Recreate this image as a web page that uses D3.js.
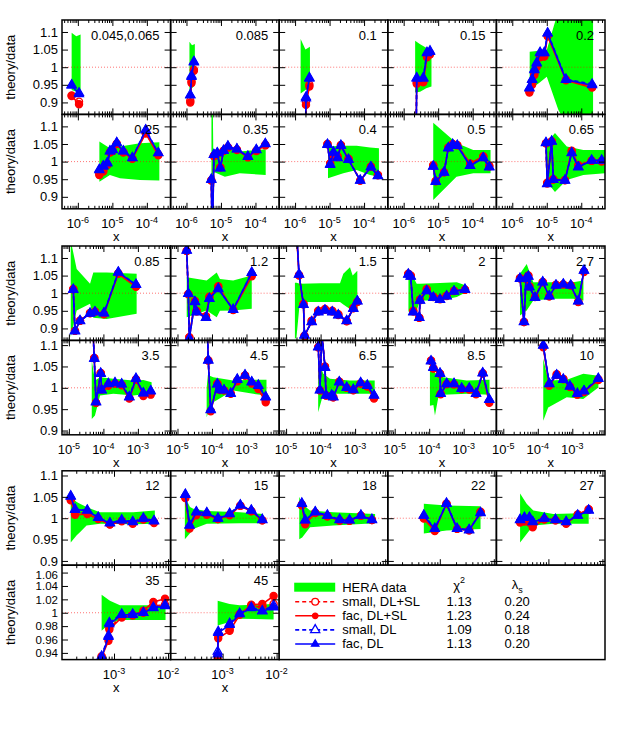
<!DOCTYPE html>
<html>
<head>
<meta charset="utf-8">
<script src="https://cdn.jsdelivr.net/npm/d3@7"></script>
<style>
  body { margin: 0; background: #fff; }
  text { font-family: "Liberation Sans", Arial, Helvetica, sans-serif; }
</style>
</head>
<body>
<div id="vis"></div>
<script>
// panel labels (Q^2 bins)
const panelLabels = ["0.045,0.065", "0.085", "0.1", "0.15", "0.2",
  "0.25", "0.35", "0.4", "0.5", "0.65",
  "0.85", "1.2", "1.5", "2", "2.7",
  "3.5", "4.5", "6.5", "8.5", "10",
  "12", "15", "18", "22", "27",
  "35", "45"];

// x values of the points, one list per panel
const xPoints = [
  [6.6e-7, 1.08e-6],
  [1.29e-6, 1.4e-6, 1.64e-6],
  [2.0e-6, 2.07e-6, 2.6e-6],
  [2.3e-6, 2.39e-6, 3.7e-6, 4.74e-6, 5.8e-6],
  [3.14e-6, 3.76e-6, 4.37e-6, 5.1e-6, 6.4e-6, 8.5e-6, 1.06e-5, 3.6e-5, 2.06e-4],
  [4.18e-6, 5.46e-6, 7.13e-6, 8.53e-6, 1.02e-5, 1.34e-5, 2.08e-5, 3.79e-5, 9.25e-5, 2.14e-4],
  [5.25e-6, 5.6e-6, 6.24e-6, 7.8e-6, 9.55e-6, 1.19e-5, 1.59e-5, 2.9e-5, 6.04e-5, 1.06e-4, 1.93e-4],
  [8.7e-6, 1.04e-5, 1.3e-5, 1.7e-5, 2.13e-5, 3.54e-5, 7.73e-5, 1.58e-4, 2.52e-4],
  [7.2e-6, 8.5e-6, 1.48e-5, 1.97e-5, 2.64e-5, 3.58e-5, 8.4e-5, 2.03e-4, 3.03e-4],
  [9.5e-6, 1.03e-5, 1.39e-5, 1.55e-5, 3.37e-5, 5.28e-5, 8.2e-5, 2.0e-4, 3.9e-4],
  [1.34e-5, 1.5e-5, 2.1e-5, 4.1e-5, 5.7e-5, 1.04e-4, 2.7e-4, 8.8e-4],
  [1.85e-5, 2.06e-5, 2.2e-5, 3.2e-5, 3.6e-5, 6.7e-5, 8.4e-5, 1.52e-4, 4.1e-4, 1.42e-3],
  [2.07e-5, 2.37e-5, 3.19e-5, 3.41e-5, 5.52e-5, 8.57e-5, 1.34e-4, 2.18e-4, 3.26e-4, 5.71e-4, 8.87e-4, 1.16e-3],
  [2.48e-5, 2.91e-5, 3.46e-5, 5.16e-5, 5.4e-5, 8.48e-5, 1.32e-4, 2.06e-4, 3.21e-4, 5.24e-4, 1.09e-3],
  [3.05e-5, 3.98e-5, 4.55e-5, 5.31e-5, 5.68e-5, 8.3e-5, 1.39e-4, 2.15e-4, 3.37e-4, 5.48e-4, 9.0e-4, 1.49e-3, 2.18e-3],
  [4.9e-5, 5.44e-5, 6.1e-5, 8.36e-5, 8.9e-5, 1.39e-4, 2.17e-4, 3.39e-4, 5.64e-4, 8.8e-4, 1.44e-3, 2.35e-3],
  [7.0e-5, 7.8e-5, 9.2e-5, 1.43e-4, 1.7e-4, 2.23e-4, 3.48e-4, 5.4e-4, 9.06e-4, 1.42e-3, 2.2e-3, 3.6e-3],
  [8.57e-5, 9.6e-5, 1.08e-4, 1.34e-4, 1.44e-4, 2.1e-4, 2.33e-4, 3.48e-4, 5.71e-4, 8.87e-4, 1.45e-3, 2.26e-3, 3.53e-3],
  [1.13e-4, 1.32e-4, 2.06e-4, 2.15e-4, 3.21e-4, 5.24e-4, 8.75e-4, 1.45e-3, 2.28e-3, 3.56e-3, 5.52e-3],
  [1.44e-4, 2.15e-4, 3.53e-4, 5.48e-4, 8.57e-4, 1.4e-3, 2.18e-3, 5.68e-3],
  [1.58e-4, 1.9e-4, 3.2e-4, 5.1e-4, 8.4e-4, 1.39e-3, 2.22e-3, 3.5e-3, 5.5e-3],
  [2.04e-4, 2.45e-4, 3.26e-4, 5.1e-4, 8.2e-4, 1.35e-3, 2.13e-3, 3.4e-3, 5.43e-3],
  [2.86e-4, 3.3e-4, 5.06e-4, 8.5e-4, 1.43e-3, 2.18e-3, 3.55e-3, 5.68e-3],
  [5.06e-4, 8.07e-4, 1.33e-3, 2.09e-3, 3.49e-3, 5.68e-3],
  [2.99e-4, 3.6e-4, 4.45e-4, 5.12e-4, 8.4e-4, 1.35e-3, 2.13e-3, 3.49e-3, 5.57e-3],
  [5.9e-4, 7.9e-4, 8.2e-4, 1.39e-3, 2.22e-3, 3.5e-3, 5.35e-3, 8.8e-3],
  [8.1e-4, 8.3e-4, 1.35e-3, 2.07e-3, 3.4e-3, 5.43e-3, 8.8e-3]
];

// theory/data: small, DL+SL
const smallDLSL = [
  [0.92, 0.902],
  [0.905, 0.96, 0.993],
  [0.83, 0.9, 0.95],
  [0.85, 0.957, 0.96, 1.032, 1.04],
  [0.932, 0.955, 0.982, 1.004, 1.032, 1.034, 1.09, 0.965, 0.946],
  [0.966, 0.976, 0.992, 1.027, 1.031, 1.051, 1.027, 1.009, 1.083, 1.02],
  [0.947, 0.78, 1.017, 1.023, 0.984, 1.031, 1.041, 1.034, 1.013, 1.031, 1.048],
  [1.049, 0.994, 1.02, 1.013, 1.046, 1.007, 0.946, 0.985, 0.961],
  [0.988, 0.944, 0.97, 1.039, 1.049, 1.046, 0.992, 1.013, 0.986],
  [1.052, 0.938, 1.057, 0.949, 0.947, 1.028, 0.988, 1.003, 1.002],
  [1.011, 0.893, 0.922, 0.943, 0.947, 0.941, 1.057, 1.02],
  [1.12, 0.998, 0.874, 0.977, 0.948, 0.933, 0.987, 1.016, 0.953, 1.053],
  [1.15, 1.052, 0.968, 0.879, 0.92, 0.948, 0.953, 0.948, 0.938, 0.921, 0.957, 0.976],
  [1.054, 1.049, 0.948, 0.93, 0.98, 1.009, 0.989, 0.983, 0.992, 1.006, 1.01],
  [1.042, 0.918, 1.041, 1.049, 1.019, 0.989, 1.031, 0.991, 1.023, 1.025, 1.022, 0.976, 1.062],
  [1.15, 1.069, 0.965, 1.034, 0.996, 1.007, 1.01, 1.007, 0.976, 1.02, 0.984, 0.988],
  [1.2, 1.064, 0.946, 1.009, 0.995, 0.994, 0.986, 1.017, 1.029, 1.011, 1.0, 0.971],
  [1.095, 0.994, 1.13, 1.049, 0.982, 0.981, 0.978, 1.014, 1.0, 0.995, 1.01, 1.004, 0.978],
  [1.063, 1.046, 1.033, 0.986, 1.009, 1.009, 0.998, 0.997, 0.986, 1.034, 0.968],
  [1.097, 1.007, 1.03, 1.02, 1.003, 0.985, 0.991, 1.02],
  [1.045, 1.012, 1.013, 0.999, 0.986, 0.994, 0.989, 0.998, 0.991],
  [1.05, 0.979, 1.01, 1.01, 0.998, 1.008, 1.029, 1.017, 0.995],
  [1.032, 0.99, 1.013, 1.005, 0.995, 0.994, 1.006, 0.996],
  [1.002, 0.972, 1.034, 0.975, 0.972, 1.014],
  [0.993, 0.996, 0.995, 0.984, 0.998, 0.995, 0.989, 1.008, 1.02],
  [0.935, 0.962, 0.978, 0.994, 0.997, 1.0, 1.01, 1.012],
  [0.936, 0.966, 0.976, 0.998, 1.01, 1.008, 1.013]
];

// theory/data: fac, DL+SL
const facDLSL = [
  [0.918, 0.895],
  [0.9, 0.955, 0.99],
  [0.82, 0.893, 0.945],
  [0.84, 0.953, 0.957, 1.028, 1.036],
  [0.928, 0.95, 0.978, 1.0, 1.028, 1.03, 1.088, 0.963, 0.942],
  [0.962, 0.972, 0.99, 1.026, 1.03, 1.05, 1.026, 1.008, 1.08, 1.018],
  [0.946, 0.78, 1.015, 1.022, 0.983, 1.03, 1.04, 1.033, 1.012, 1.03, 1.046],
  [1.05, 0.995, 1.015, 1.015, 1.047, 1.008, 0.946, 0.986, 0.962],
  [0.99, 0.945, 0.97, 1.04, 1.05, 1.047, 0.995, 1.015, 0.988],
  [1.052, 0.94, 1.058, 0.95, 0.948, 1.031, 0.99, 1.002, 1.0],
  [1.012, 0.893, 0.922, 0.944, 0.948, 0.94, 1.055, 1.018],
  [1.12, 0.997, 0.875, 0.978, 0.95, 0.935, 0.99, 1.02, 0.952, 1.048],
  [1.15, 1.05, 0.97, 0.878, 0.922, 0.95, 0.955, 0.95, 0.94, 0.92, 0.958, 0.975],
  [1.055, 1.05, 0.95, 0.93, 0.982, 1.012, 0.99, 0.984, 0.993, 1.007, 1.01],
  [1.043, 0.918, 1.04, 1.05, 1.02, 0.99, 1.032, 0.991, 1.024, 1.025, 1.022, 0.975, 1.06],
  [1.15, 1.07, 0.965, 1.035, 0.997, 1.005, 1.01, 1.006, 0.975, 1.019, 0.981, 0.984],
  [1.2, 1.064, 0.945, 1.01, 0.995, 0.994, 0.987, 1.015, 1.029, 1.01, 0.997, 0.966],
  [1.095, 0.994, 1.13, 1.05, 0.982, 0.98, 0.978, 1.014, 1.0, 0.994, 1.01, 1.003, 0.975],
  [1.064, 1.045, 1.033, 0.985, 1.009, 1.008, 0.997, 0.996, 0.985, 1.033, 0.965],
  [1.095, 1.005, 1.032, 1.021, 1.002, 0.984, 0.99, 1.018],
  [1.042, 1.008, 1.01, 0.998, 0.985, 0.993, 0.987, 0.997, 0.989],
  [1.047, 0.976, 1.007, 1.008, 0.998, 1.007, 1.029, 1.016, 0.995],
  [1.03, 0.986, 1.012, 1.004, 0.994, 0.994, 1.006, 0.996],
  [0.999, 0.97, 1.034, 0.975, 0.972, 1.015],
  [0.99, 0.992, 0.99, 0.979, 0.997, 0.995, 0.987, 1.009, 1.021],
  [0.934, 0.958, 0.975, 0.993, 0.996, 1.003, 1.016, 1.021],
  [0.931, 0.962, 0.973, 0.997, 1.012, 1.013, 1.025]
];

// theory/data: small, DL
const smallDL = [
  [0.95, 0.927],
  [0.922, 0.976, 1.016],
  [0.8, 0.915, 0.97],
  [0.79, 0.97, 0.97, 1.042, 1.046],
  [0.942, 0.966, 0.994, 1.013, 1.042, 1.042, 1.097, 0.966, 0.952],
  [0.978, 0.988, 0.997, 1.03, 1.034, 1.054, 1.03, 1.011, 1.09, 1.025],
  [0.95, 0.76, 1.02, 1.025, 0.982, 1.032, 1.044, 1.036, 1.015, 1.034, 1.05],
  [1.049, 0.993, 1.027, 1.011, 1.046, 1.006, 0.947, 0.985, 0.96],
  [0.987, 0.944, 0.97, 1.039, 1.049, 1.046, 0.989, 1.011, 0.985],
  [1.054, 0.937, 1.058, 0.949, 0.947, 1.025, 0.985, 1.004, 1.004],
  [1.011, 0.893, 0.922, 0.943, 0.947, 0.944, 1.06, 1.025],
  [1.122, 0.999, 0.872, 0.976, 0.947, 0.931, 0.985, 1.013, 0.954, 1.058],
  [1.16, 1.054, 0.968, 0.881, 0.919, 0.947, 0.952, 0.947, 0.938, 0.922, 0.957, 0.978],
  [1.054, 1.048, 0.947, 0.931, 0.98, 1.007, 0.988, 0.982, 0.992, 1.006, 1.011],
  [1.042, 0.919, 1.042, 1.048, 1.018, 0.988, 1.032, 0.992, 1.023, 1.026, 1.023, 0.978, 1.065],
  [1.15, 1.069, 0.967, 1.034, 0.995, 1.01, 1.012, 1.009, 0.979, 1.022, 0.988, 0.993],
  [1.2, 1.065, 0.949, 1.009, 0.996, 0.995, 0.987, 1.02, 1.03, 1.014, 1.006, 0.979],
  [1.096, 0.995, 1.13, 1.048, 0.983, 0.983, 0.979, 1.014, 1.001, 0.996, 1.012, 1.006, 0.983],
  [1.063, 1.048, 1.034, 0.987, 1.01, 1.01, 0.999, 0.999, 0.987, 1.035, 0.973],
  [1.1, 1.01, 1.03, 1.02, 1.004, 0.987, 0.993, 1.022],
  [1.052, 1.021, 1.019, 1.002, 0.989, 0.996, 0.992, 1.0, 0.994],
  [1.056, 0.984, 1.015, 1.013, 1.0, 1.011, 1.031, 1.019, 0.997],
  [1.035, 0.996, 1.015, 1.007, 0.997, 0.996, 1.007, 0.997],
  [1.007, 0.976, 1.035, 0.976, 0.973, 1.013],
  [0.997, 1.002, 1.002, 0.992, 1.0, 0.997, 0.992, 1.007, 1.019],
  [0.935, 0.966, 0.985, 0.998, 0.998, 1.0, 1.008, 1.012],
  [0.942, 0.972, 0.984, 0.999, 1.008, 1.003, 1.011]
];

// theory/data: fac, DL
const facDL = [
  [0.948, 0.924],
  [0.92, 0.973, 1.014],
  [0.79, 0.912, 0.968],
  [0.78, 0.968, 0.968, 1.04, 1.044],
  [0.94, 0.964, 0.992, 1.011, 1.04, 1.04, 1.096, 0.964, 0.949],
  [0.976, 0.986, 0.995, 1.029, 1.033, 1.053, 1.029, 1.01, 1.089, 1.024],
  [0.948, 0.75, 1.019, 1.024, 0.981, 1.031, 1.043, 1.035, 1.014, 1.033, 1.051],
  [1.048, 0.991, 1.026, 1.01, 1.045, 1.005, 0.946, 0.984, 0.959],
  [0.986, 0.943, 0.969, 1.038, 1.048, 1.045, 0.988, 1.01, 0.984],
  [1.053, 0.936, 1.057, 0.948, 0.946, 1.024, 0.984, 1.003, 1.003],
  [1.01, 0.892, 0.921, 0.942, 0.946, 0.943, 1.059, 1.024],
  [1.121, 0.998, 0.87, 0.975, 0.946, 0.93, 0.984, 1.012, 0.953, 1.059],
  [1.16, 1.053, 0.967, 0.88, 0.918, 0.946, 0.951, 0.946, 0.937, 0.921, 0.956, 0.977],
  [1.053, 1.047, 0.946, 0.93, 0.979, 1.006, 0.987, 0.981, 0.991, 1.005, 1.01],
  [1.041, 0.918, 1.041, 1.047, 1.017, 0.987, 1.031, 0.991, 1.022, 1.025, 1.022, 0.977, 1.064],
  [1.15, 1.068, 0.966, 1.033, 0.994, 1.009, 1.011, 1.008, 0.978, 1.021, 0.987, 0.992],
  [1.2, 1.064, 0.948, 1.008, 0.995, 0.994, 0.986, 1.019, 1.029, 1.013, 1.005, 0.978],
  [1.095, 0.994, 1.13, 1.047, 0.982, 0.982, 0.978, 1.013, 1.0, 0.995, 1.011, 1.005, 0.982],
  [1.062, 1.047, 1.033, 0.986, 1.009, 1.009, 0.998, 0.998, 0.986, 1.034, 0.972],
  [1.099, 1.009, 1.029, 1.019, 1.003, 0.986, 0.992, 1.021],
  [1.051, 1.02, 1.018, 1.001, 0.988, 0.995, 0.991, 0.999, 0.993],
  [1.055, 0.983, 1.014, 1.012, 0.999, 1.01, 1.03, 1.018, 0.996],
  [1.034, 0.995, 1.014, 1.006, 0.996, 0.995, 1.006, 0.996],
  [1.006, 0.975, 1.034, 0.975, 0.972, 1.012],
  [0.996, 1.001, 1.001, 0.991, 0.999, 0.996, 0.991, 1.006, 1.018],
  [0.933, 0.964, 0.983, 0.997, 0.997, 1.0, 1.007, 1.01],
  [0.938, 0.97, 0.982, 0.998, 1.007, 1.002, 1.008]
];

// HERA data uncertainty band
const bandX = [
  [6.6e-7, 9e-7, 1.2e-6],
  [1.22e-6, 1.45e-6, 1.75e-6],
  [1.45e-6, 2.0e-6, 2.7e-6],
  [2.15e-6, 3.0e-6, 4.5e-6, 6.4e-6],
  [3.2e-6, 6e-6, 1.0e-5, 2.16e-5, 6e-5, 2.2e-4],
  [4.2e-6, 8.5e-6, 1.66e-5, 6.3e-5, 2.3e-4],
  [5.3e-6, 5.6e-6, 6.0e-6, 1.3e-5, 3.5e-5, 1.98e-4],
  [9e-6, 2.5e-5, 6.1e-5, 1.49e-4, 2.7e-4],
  [7.2e-6, 3.4e-5, 1.04e-4, 3.3e-4],
  [9.9e-6, 1.73e-5, 3.8e-5, 1.15e-4, 4.9e-4],
  [1.13e-5, 1.68e-5, 4.1e-5, 5.1e-5, 1.25e-4, 9.2e-4],
  [1.85e-5, 7.0e-5, 1.37e-4, 1.7e-4, 4.1e-4, 1.42e-3],
  [1.8e-5, 2.0e-5, 2.5e-5, 1e-4, 3.65e-4, 4.55e-4, 7.1e-4, 8.5e-4, 1.16e-3],
  [2.5e-5, 2.77e-5, 4.35e-5, 5.4e-5, 2.06e-4, 6.3e-4, 1.17e-3],
  [3.05e-5, 4.77e-5, 7.4e-5, 2.81e-4, 1.07e-3, 2.1e-3],
  [4.6e-5, 5.7e-5, 8e-5, 1.94e-4, 7.4e-4, 1.44e-3, 2.5e-3],
  [7.0e-5, 7.6e-5, 1.09e-4, 4.1e-4, 1.57e-3, 3.8e-3],
  [8.5e-5, 1.2e-4, 1.87e-4, 7.1e-4, 3.7e-3],
  [1.05e-4, 1.32e-4, 1.47e-4, 1.84e-4, 2.56e-4, 1.22e-3, 5.6e-3],
  [1.44e-4, 2.0e-4, 6.9e-4, 2.08e-3, 5.7e-3],
  [1.58e-4, 2.04e-4, 2.34e-4, 3.1e-4, 5.5e-4, 2.28e-3, 5.7e-3],
  [2.0e-4, 2.49e-4, 2.86e-4, 5.1e-4, 2.1e-3, 5.6e-3],
  [2.56e-4, 2.9e-4, 4.05e-4, 1.09e-3, 6.5e-3],
  [5.06e-4, 1.33e-3, 5.68e-3],
  [2.99e-4, 3.96e-4, 5.25e-4, 1.23e-3, 5.57e-3],
  [5.9e-4, 8.4e-4, 1.29e-3, 9e-3],
  [8.1e-4, 1.35e-3, 2.07e-3, 8.8e-3]
];
const bandLow = [
  [0.935, 0.93, 0.915],
  [0.93, 0.94, 0.95],
  [0.925, 0.935, 0.94],
  [0.928, 0.93, 0.94, 0.945],
  [0.936, 0.955, 0.973, 0.879, 0.8, 0.78],
  [0.943, 0.962, 0.953, 0.948, 0.946],
  [0.9, 0.95, 0.971, 0.957, 0.967, 0.962],
  [0.953, 0.967, 0.976, 0.962, 0.957],
  [0.891, 0.957, 0.967, 0.967],
  [0.943, 0.914, 0.948, 0.962, 0.967],
  [0.875, 0.951, 0.97, 0.93, 0.927, 0.942],
  [0.932, 0.951, 0.932, 0.95, 0.951, 0.956],
  [0.87, 0.875, 0.975, 0.975, 0.975, 0.968, 0.955, 0.96, 0.96],
  [0.95, 0.937, 0.951, 0.979, 0.979, 0.989, 1.003],
  [0.937, 0.951, 0.979, 0.984, 0.984, 0.979],
  [0.927, 0.935, 0.982, 0.986, 0.982, 0.985, 0.99],
  [0.931, 0.94, 0.966, 0.994, 0.986, 0.982],
  [0.943, 0.986, 0.986, 0.986, 0.986],
  [0.958, 0.96, 0.935, 0.978, 0.984, 0.986, 0.984],
  [0.923, 0.954, 0.978, 0.974, 1.001],
  [0.943, 0.96, 0.967, 0.983, 0.987, 0.986, 0.987],
  [0.951, 0.965, 0.975, 0.987, 0.988, 0.988],
  [0.951, 0.955, 0.979, 0.983, 0.988],
  [0.964, 0.971, 0.975],
  [0.943, 0.963, 0.983, 0.987, 0.987],
  [0.973, 0.984, 0.989, 0.989],
  [0.981, 0.986, 0.991, 0.99]
];
const bandHigh = [
  [1.098, 1.088, 1.093],
  [1.072, 1.062, 1.066],
  [1.08, 1.05, 1.058],
  [1.075, 1.065, 1.055, 1.05],
  [1.044, 1.047, 1.049, 1.16, 1.2, 1.25],
  [1.057, 1.038, 1.043, 1.052, 1.055],
  [1.3, 1.3, 1.024, 1.038, 1.029, 1.035],
  [1.043, 1.045, 1.045, 1.04, 1.038],
  [1.11, 1.053, 1.033, 1.033],
  [1.053, 1.081, 1.043, 1.033, 1.033],
  [1.15, 1.069, 1.027, 1.059, 1.059, 1.055],
  [1.045, 1.036, 1.059, 1.04, 1.036, 1.05],
  [1.03, 1.03, 1.027, 1.028, 1.028, 1.055, 1.074, 1.05, 1.064],
  [1.05, 1.064, 1.027, 1.027, 1.029, 1.031, 1.022],
  [1.055, 1.083, 1.031, 1.031, 1.031, 1.036],
  [1.064, 1.017, 1.025, 1.021, 1.017, 1.018, 1.013],
  [1.0, 1.03, 1.025, 1.017, 1.019, 1.019],
  [1.064, 1.033, 1.021, 1.017, 1.017],
  [1.06, 1.041, 1.035, 1.028, 1.025, 1.017, 1.019],
  [1.068, 1.017, 1.019, 1.033, 1.028],
  [1.05, 1.038, 1.034, 1.026, 1.014, 1.014, 1.018],
  [1.05, 1.026, 1.022, 1.017, 1.014, 1.01],
  [1.05, 1.034, 1.018, 1.014, 1.01],
  [1.034, 1.03, 1.028],
  [1.058, 1.034, 1.018, 1.01, 1.012],
  [1.027, 1.018, 1.011, 1.011],
  [1.018, 1.013, 1.011, 1.013]
];

// axis ticks
const yTickRows = [
  [0.9, 0.95, 1, 1.05, 1.1],
  [0.9, 0.95, 1, 1.05, 1.1],
  [0.9, 0.95, 1, 1.05, 1.1],
  [0.9, 0.95, 1, 1.05, 1.1],
  [0.9, 0.95, 1, 1.05, 1.1],
  [0.94, 0.96, 0.98, 1, 1.02, 1.04, 1.06]
];
const xTickExponents = [[-6, -5, -4], [-5, -4, -3], [-3, -2]];

// legend
const legendLabels = ["small, DL+SL", "fac, DL+SL", "small, DL", "fac, DL"];
const chi2Values = ["1.13", "1.23", "1.09", "1.13"];
const lambdaValues = ["0.20", "0.24", "0.18", "0.20"];

// ---- layout ----
const W = 623, H = 733;
const colLeft = [62, 170.6, 279.2, 387.8, 496.4];
const colW = 108.6;
const rowTop = [20, 114.4, 246, 340.4, 470.8, 565.2];
const rowH = 94.4;
const groupOfRow = [0, 0, 1, 1, 2, 2];
const xDomains = [
  [Math.pow(10, -6.46), Math.pow(10, -3.312)],
  [Math.pow(10, -5.2), Math.pow(10, -2.052)],
  [Math.pow(10, -3.963), Math.pow(10, -1.952)]
];
const yDomains = [[0.866, 1.134], [0.866, 1.134], [0.866, 1.134], [0.89, 1.111], [0.89, 1.111], [0.93, 1.071]];
// tick label size per row (the last row has denser ticks)
const yLabelSize = ['13px', '13px', '13px', '13px', '13px', '11.5px'];
const hasXLabels = (row, col) => row === 1 || row === 3 || row === 5;

const svg = d3.select('#vis').append('svg')
  .attr('width', W).attr('height', H)
  .style('background', '#fff');

const seriesDefs = [
  { values: smallDLSL, color: '#ff0000', dash: '4,3', shape: d3.symbolCircle, size: 40, filled: false },
  { values: facDLSL, color: '#ff0000', dash: null, shape: d3.symbolCircle, size: 40, filled: true },
  { values: smallDL, color: '#0000ff', dash: '4,3', shape: d3.symbolTriangle, size: 34, filled: false },
  { values: facDL, color: '#0000ff', dash: null, shape: d3.symbolTriangle, size: 34, filled: true }
];

const isDecade = t => Math.abs(Math.log10(t) - Math.round(Math.log10(t))) < 1e-6;

panelLabels.forEach((label, i) => {
  const row = Math.floor(i / 5), col = i % 5;
  const grp = groupOfRow[row];
  const x = d3.scaleLog().domain(xDomains[grp]).range([0, colW]);
  const y = d3.scaleLinear().domain(yDomains[row]).range([rowH, 0]);

  const g = svg.append('g').attr('transform', `translate(${colLeft[col]},${rowTop[row]})`);

  g.append('clipPath').attr('id', 'clip' + i)
    .append('rect').attr('width', colW).attr('height', rowH);
  const plot = g.append('g').attr('clip-path', `url(#clip${i})`);

  // green band
  const band = bandX[i].map((v, k) => ({ x: v, lo: bandLow[i][k], hi: bandHigh[i][k] }));
  plot.append('path')
    .datum(band)
    .attr('fill', '#00ff00')
    .attr('d', d3.area().x(d => x(d.x)).y0(d => y(d.lo)).y1(d => y(d.hi)));

  // reference line at 1
  plot.append('line')
    .attr('x1', 0).attr('x2', colW)
    .attr('y1', y(1)).attr('y2', y(1))
    .attr('stroke', '#ff0000').attr('stroke-opacity', 0.55)
    .attr('stroke-width', 1).attr('stroke-dasharray', '1,2');

  // theory curves
  seriesDefs.forEach(s => {
    const pts = xPoints[i].map((v, k) => ({ x: v, y: s.values[i][k] }));
    plot.append('path')
      .datum(pts)
      .attr('fill', 'none')
      .attr('stroke', s.color)
      .attr('stroke-width', 1.6)
      .attr('stroke-dasharray', s.dash)
      .attr('d', d3.line().x(d => x(d.x)).y(d => y(d.y)));
    plot.append('g').selectAll('path')
      .data(pts)
      .join('path')
      .attr('transform', d => `translate(${x(d.x)},${y(d.y)})`)
      .attr('d', d3.symbol().type(s.shape).size(s.size))
      .attr('fill', s.filled ? s.color : 'none')
      .attr('stroke', s.color)
      .attr('stroke-width', 1.3);
  });

  // ticks (inward, mirrored)
  const majors = x.ticks().filter(isDecade);
  const minors = x.ticks().filter(t => !isDecade(t));
  const axes = g.append('g').attr('class', 'ticks');
  axes.append('g').attr('transform', `translate(0,${rowH})`)
    .call(d3.axisBottom(x).tickValues(majors).tickSize(-6).tickFormat(''));
  axes.append('g').attr('transform', `translate(0,${rowH})`)
    .call(d3.axisBottom(x).tickValues(minors).tickSize(-3).tickFormat(''));
  axes.append('g')
    .call(d3.axisTop(x).tickValues(majors).tickSize(-6).tickFormat(''));
  axes.append('g')
    .call(d3.axisTop(x).tickValues(minors).tickSize(-3).tickFormat(''));
  const left = axes.append('g')
    .call(d3.axisLeft(y).tickValues(yTickRows[row]).tickSize(-6).tickPadding(4)
      .tickFormat(col === 0 ? (d => String(d)) : ''));
  axes.append('g').attr('transform', `translate(${colW},0)`)
    .call(d3.axisRight(y).tickValues(yTickRows[row]).tickSize(-6).tickFormat(''));
  axes.selectAll('.domain').remove();
  axes.selectAll('.tick line').attr('stroke', '#000').attr('stroke-width', 1);
  axes.selectAll('text')
    .attr('font-family', null).attr('font-size', null)
    .style('font-size', yLabelSize[row]).attr('fill', '#000');
  // the top label of the last row sits right under the row above: nudge it a bit
  if (row === 5) {
    left.selectAll('.tick text').filter(d => d === 1.06).attr('dy', '0.55em');
  }

  // frame
  g.append('rect')
    .attr('width', colW).attr('height', rowH)
    .attr('fill', 'none').attr('stroke', '#000').attr('stroke-width', 1.5);

  // panel label
  g.append('text')
    .attr('x', colW - 11).attr('y', 19.5)
    .attr('text-anchor', 'end')
    .style('font-size', '13px')
    .text(label);

  // x tick labels and x title
  if (hasXLabels(row, col)) {
    xTickExponents[grp].forEach(e => {
      const t = g.append('text')
        .attr('x', x(Math.pow(10, e))).attr('y', rowH + 19)
        .attr('text-anchor', 'middle')
        .style('font-size', '13px');
      t.append('tspan').text('10');
      t.append('tspan').attr('dy', -5).style('font-size', '9px').text(String(e));
    });
    g.append('text')
      .attr('x', colW / 2).attr('y', rowH + 32)
      .attr('text-anchor', 'middle')
      .style('font-size', '13px')
      .text('x');
  }
});

// y titles
rowTop.forEach(t => {
  svg.append('text')
    .attr('transform', `translate(15,${t + rowH / 2}) rotate(-90)`)
    .attr('text-anchor', 'middle')
    .style('font-size', '13px')
    .text('theory/data');
});

// legend box in the free area of the last row
const lg = svg.append('g').attr('transform', `translate(${colLeft[2]},${rowTop[5]})`);
lg.append('rect')
  .attr('width', colLeft[4] + colW - colLeft[2]).attr('height', rowH)
  .attr('fill', '#fff').attr('stroke', '#000').attr('stroke-width', 1.5);

lg.append('rect').attr('x', 15).attr('y', 17.5).attr('width', 41).attr('height', 9).attr('fill', '#00ff00');
lg.append('text').attr('x', 63).attr('y', 26.5).style('font-size', '13px').text('HERA data');

const chiHead = lg.append('text').attr('x', 180).attr('y', 25).attr('text-anchor', 'middle').style('font-size', '13px');
chiHead.append('tspan').text('\u03c7');
chiHead.append('tspan').attr('dy', -7).style('font-size', '9px').text('2');
const lamHead = lg.append('text').attr('x', 238).attr('y', 24).attr('text-anchor', 'middle').style('font-size', '13px');
lamHead.append('tspan').text('\u03bb');
lamHead.append('tspan').attr('dy', 4).style('font-size', '9px').text('s');

legendLabels.forEach((name, k) => {
  const s = seriesDefs[k];
  const cy = 36.5 + k * 14.1;
  lg.append('line')
    .attr('x1', 16).attr('x2', 56).attr('y1', cy).attr('y2', cy)
    .attr('stroke', s.color).attr('stroke-width', 1.6)
    .attr('stroke-dasharray', s.dash);
  lg.append('path')
    .attr('transform', `translate(36,${cy})`)
    .attr('d', d3.symbol().type(s.shape).size(s.filled ? 24 : 36))
    .attr('fill', s.filled ? s.color : '#fff')
    .attr('stroke', s.color).attr('stroke-width', 1.3);
  lg.append('text').attr('x', 63).attr('y', cy + 4.5).style('font-size', '13px').text(name);
  lg.append('text').attr('x', 180).attr('y', cy + 4.5).attr('text-anchor', 'middle').style('font-size', '13px').text(chi2Values[k]);
  lg.append('text').attr('x', 238).attr('y', cy + 4.5).attr('text-anchor', 'middle').style('font-size', '13px').text(lambdaValues[k]);
});
</script>
</body>
</html>
